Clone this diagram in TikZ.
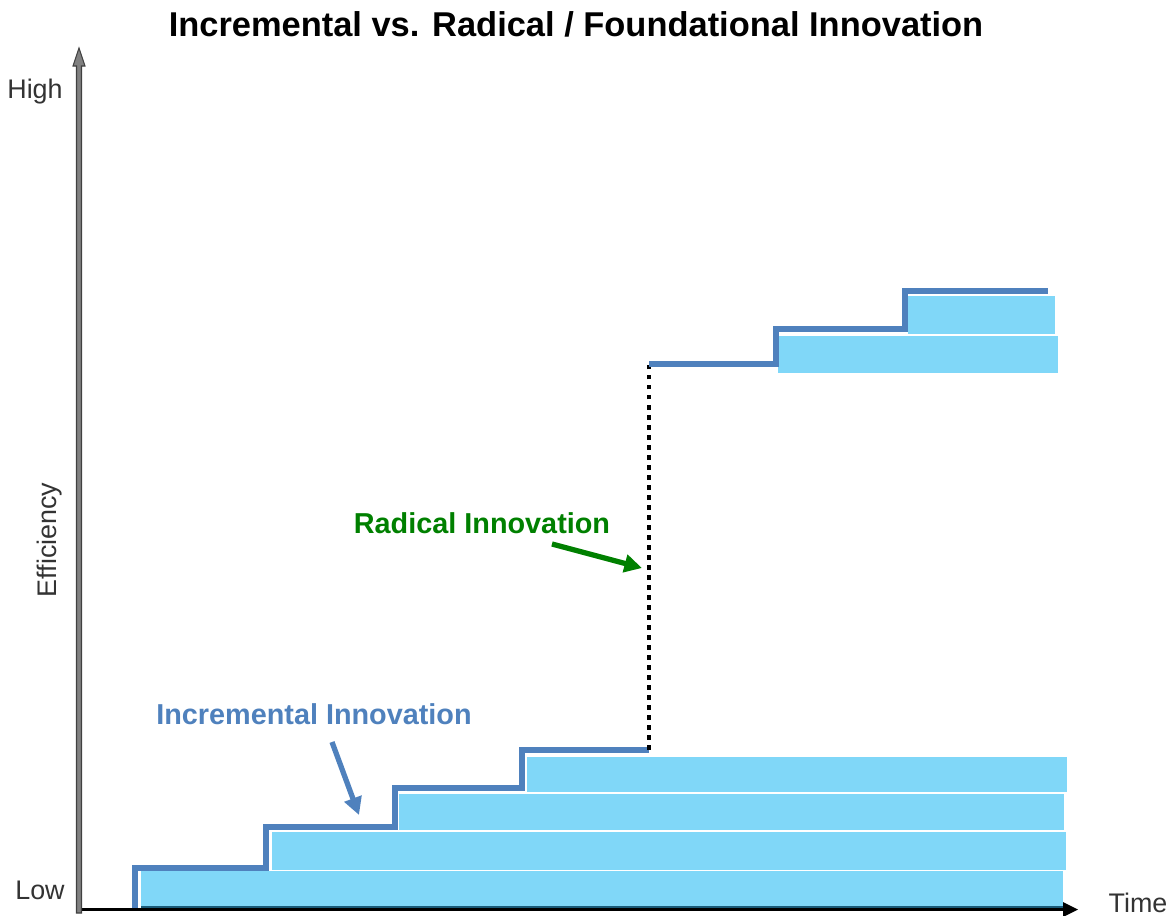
\documentclass[tikz,border=0pt]{standalone}
\usepackage{fontspec}
\setmainfont{Liberation Sans}
\usetikzlibrary{arrows.meta}
\definecolor{stepblue}{RGB}{79,129,189}
\definecolor{barblue}{RGB}{128,215,248}
\definecolor{radgreen}{RGB}{0,128,0}
\definecolor{axisgray}{RGB}{128,128,128}
\definecolor{axisdark}{RGB}{64,64,64}
\definecolor{tealedge}{RGB}{25,90,120}
\tikzset{
  bar/.style={fill=barblue, draw=none},
  stairline/.style={draw=stepblue, line width=3.1pt, line join=miter},
  jumpline/.style={draw=black, line width=2.6pt, dash pattern=on 2.6pt off 3.1pt},
  axislabel/.style={font=\fontsize{15.3}{18}\selectfont, text=black!80, inner sep=0pt},
  callout/.style={font=\bfseries\fontsize{16.4}{19}\selectfont, inner sep=0pt},
  pointer/.style={line width=3pt, -{Triangle[length=10pt,width=10pt]}}
}
\begin{document}
\begin{tikzpicture}[x=0.02cm,y=-0.02cm]
\useasboundingbox (0,0) rectangle (1170,916);
% title
\node[font=\bfseries\fontsize{19.6}{23}\selectfont, inner sep=0pt] (title) at (576,24) {Incremental vs. Radical / Foundational Innovation};
% bars
\fill[bar] (141,871) rectangle (1063,907);
\fill[bar] (272,832) rectangle (1066,870);
\fill[bar] (399,794) rectangle (1064,830);
\fill[bar] (527,757) rectangle (1067,792);
\fill[bar] (778,336) rectangle (1058,373);
\fill[bar] (908,296) rectangle (1055,334);
\draw[tealedge, line width=1.4pt] (141,907.5) -- (1063,907.5);
% axes
\coordinate (origin) at (79,910);
\coordinate (ytop) at (79,48);
\coordinate (xend) at (1078,909);
\draw[black, line width=1.8pt] (79,909.5) -- (1064,909.5);
\fill[black] (1063,902) -- (1078,909.5) -- (1063,917) -- cycle;
\draw[fill=axisgray, draw=axisdark, line width=0.6pt]
  (76.5,913) -- (76.5,66) -- (73,66) -- (79,48) -- (85,66) -- (81.5,66) -- (81.5,913) -- cycle;
% staircase
\coordinate (s0) at (135,908);
\coordinate (jumpA) at (649,750);
\coordinate (jumpB) at (649,364);
\draw[stairline] (s0) -- (135,868) -- (266,868) -- (266,827) -- (395,827) -- (395,788) -- (522,788) -- (522,750) -- (jumpA);
\draw[jumpline] (jumpA) -- (jumpB);
\draw[stairline] (jumpB) -- (776,364) -- (776,329) -- (905,329) -- (905,291) -- (1048,291);
% labels
\node[axislabel] (high) at (35,92) {High};
\node[axislabel] (low) at (40,890) {Low};
\node[axislabel] (time) at (1138,903) {Time};
\node[axislabel, rotate=90] (eff) at (50,540) {Efficiency};
\node[callout, text=stepblue] (incr) at (314,714) {Incremental Innovation};
\node[callout, text=radgreen] (rad) at (482,523) {Radical Innovation};
% pointers
\coordinate (incrtail) at (332,742);
\coordinate (incrtip) at (359,815);
\coordinate (radtail) at (552,544);
\coordinate (radtip) at (642,568);
\draw[pointer, stepblue] (incrtail) -- (incrtip);
\draw[pointer, radgreen] (radtail) -- (radtip);
\end{tikzpicture}
\end{document}
